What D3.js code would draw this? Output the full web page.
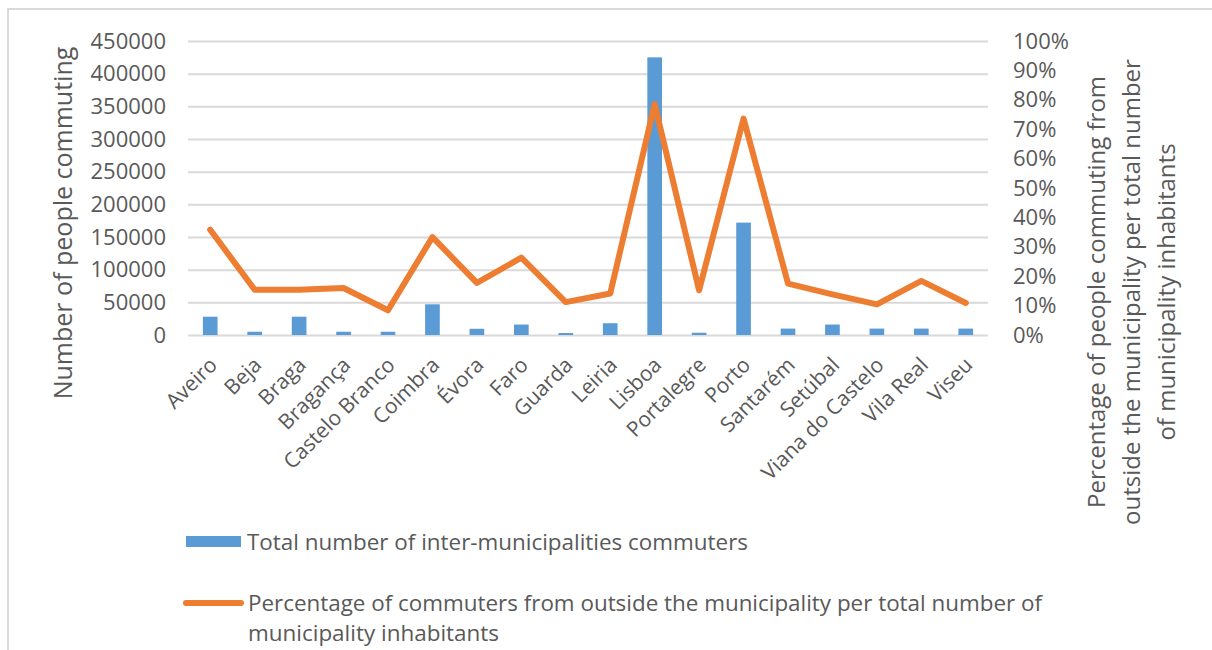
<!DOCTYPE html>
<html>
<head>
<meta charset="utf-8">
<script src="https://cdn.jsdelivr.net/npm/d3@7"></script>
<style>
  body { margin: 0; background: #fff; }
  svg text { font-family: "Open Sans", sans-serif; fill: #595959; }
</style>
</head>
<body>
<svg id="viz" width="1212" height="650"></svg>
<script>
// data
const cities = ['Aveiro', 'Beja', 'Braga', 'Bragança', 'Castelo Branco', 'Coimbra', 'Évora', 'Faro',
  'Guarda', 'Leiria', 'Lisboa', 'Portalegre', 'Porto', 'Santarém', 'Setúbal', 'Viana do Castelo',
  'Vila Real', 'Viseu'];
const commuters = [28000, 5000, 28000, 5000, 5000, 47000, 9500, 16000, 3000, 18000, 425000, 3500,
  172000, 9800, 16000, 9800, 9800, 9800];
const pctOutside = [0.358, 0.154, 0.154, 0.16, 0.084, 0.333, 0.177, 0.263, 0.112, 0.141, 0.785, 0.152,
  0.736, 0.175, 0.138, 0.104, 0.184, 0.109];
const leftTicks = [0, 50000, 100000, 150000, 200000, 250000, 300000, 350000, 400000, 450000];
const rightTicks = [0, 0.1, 0.2, 0.3, 0.4, 0.5, 0.6, 0.7, 0.8, 0.9, 1];

const svg = d3.select('#viz');
const plot = { left: 188, right: 988, top: 41, bottom: 335 };

// chart frame (only top and left edge show in the picture)
svg.append('rect')
  .attr('x', 8).attr('y', 9)
  .attr('width', 1400).attr('height', 800)
  .attr('fill', 'none')
  .attr('stroke', '#d9d9d9')
  .attr('stroke-width', 2);

var x = d3.scaleBand().domain(cities).range([plot.left, plot.right]).padding(0);
var yL = d3.scaleLinear().domain([0, 450000]).range([plot.bottom, plot.top]);
var yR = d3.scaleLinear().domain([0, 1]).range([plot.bottom, plot.top]);

// gridlines + left axis
svg.append('g')
  .attr('transform', 'translate(' + plot.left + ',0)')
  .call(d3.axisLeft(yL).tickValues(leftTicks).tickSize(-(plot.right - plot.left)).tickPadding(22).tickFormat(d3.format('d')))
  .call((g) => g.select('.domain').remove())
  .call((g) => g.selectAll('line').attr('stroke', '#d9d9d9').attr('stroke-width', 2))
  .call((g) => g.selectAll('text').style('font-size', '22px').attr('fill', '#595959')
    .style('font-family', '"Open Sans", sans-serif'));

// right axis (labels only)
svg.append('g')
  .attr('transform', 'translate(' + plot.right + ',0)')
  .call(d3.axisRight(yR).tickValues(rightTicks).tickSize(0).tickPadding(25).tickFormat(d3.format('.0%')))
  .call((g) => g.select('.domain').remove())
  .call((g) => g.selectAll('text').style('font-size', '22px').attr('fill', '#595959')
    .style('font-family', '"Open Sans", sans-serif'));

// bars
var barW = x.bandwidth() * 0.33;
svg.append('g')
  .selectAll('rect')
  .data(cities)
  .enter()
  .append('rect')
  .attr('x', (d) => x(d) + (x.bandwidth() - barW) / 2)
  .attr('width', barW)
  .attr('y', (d, i) => yL(commuters[i]))
  .attr('height', (d, i) => yL(0) - yL(commuters[i]))
  .attr('fill', '#5b9bd5');

// line
var line = d3.line()
  .x((d, i) => x(cities[i]) + x.bandwidth() / 2)
  .y((d) => yR(d));

svg.append('path')
  .datum(pctOutside)
  .attr('d', line)
  .attr('fill', 'none')
  .attr('stroke', '#ed7d31')
  .attr('stroke-width', 6)
  .attr('stroke-linejoin', 'round')
  .attr('stroke-linecap', 'round');

// category labels, rotated
svg.append('g')
  .selectAll('text')
  .data(cities)
  .enter()
  .append('text')
  .attr('transform', (d) => 'translate(' + (x(d) + x.bandwidth() / 2 + 3) + ',361)rotate(-45)')
  .attr('text-anchor', 'end')
  .attr('dy', '0.35em')
  .style('font-size', '21px')
  .text((d) => d);

// axis titles
svg.append('text')
  .attr('transform', 'translate(72,223)rotate(-90)')
  .attr('text-anchor', 'middle')
  .style('font-size', '25px')
  .text('Number of people commuting');

var rTitle = ['Percentage of people commuting from', 'outside the municipality per total number',
  'of municipality inhabitants'];
svg.append('g')
  .selectAll('text')
  .data(rTitle)
  .enter()
  .append('text')
  .attr('transform', (d, i) => 'translate(' + (1105 + i * 35) + ',292)rotate(-90)')
  .attr('text-anchor', 'middle')
  .style('font-size', '24px')
  .text((d) => d);

// legend
svg.append('rect')
  .attr('x', 186).attr('y', 536)
  .attr('width', 55).attr('height', 11)
  .attr('fill', '#5b9bd5');
svg.append('text')
  .attr('x', 247).attr('y', 550)
  .attr('textLength', 501)
  .attr('lengthAdjust', 'spacingAndGlyphs')
  .style('font-size', '22px')
  .text('Total number of inter-municipalities commuters');

svg.append('line')
  .attr('x1', 186).attr('x2', 241)
  .attr('y1', 603).attr('y2', 603)
  .attr('stroke', '#ed7d31')
  .attr('stroke-width', 6)
  .attr('stroke-linecap', 'round');
svg.append('text')
  .attr('x', 248).attr('y', 611)
  .attr('textLength', 794)
  .attr('lengthAdjust', 'spacingAndGlyphs')
  .style('font-size', '22px')
  .text('Percentage of commuters from outside the municipality per total number of');
svg.append('text')
  .attr('x', 248).attr('y', 641)
  .attr('textLength', 251)
  .attr('lengthAdjust', 'spacingAndGlyphs')
  .style('font-size', '22px')
  .text('municipality inhabitants');
</script>
</body>
</html>
